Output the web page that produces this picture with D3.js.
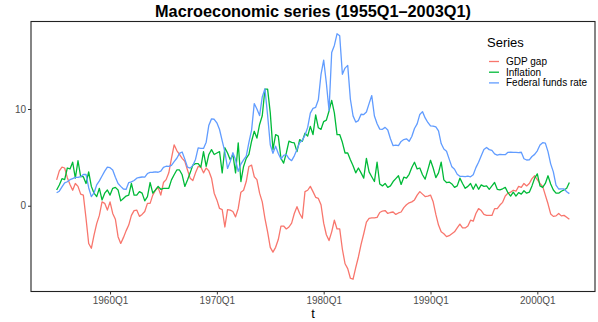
<!DOCTYPE html>
<html><head><meta charset="utf-8">
<script src="https://cdn.jsdelivr.net/npm/d3@7"></script>
<style>body{margin:0;background:#fff;} svg{display:block;font-family:"Liberation Sans",Arial,sans-serif;}</style>
</head><body><svg id="c" width="598" height="322"></svg>
<script>
const startYear = 1955;
const nQuarters = 193;
const quarters = d3.range(nQuarters).map(i => (startYear + Math.floor(i/4)) + "Q" + (i%4+1));
const xTickLabels = ["1960Q1","1970Q1","1980Q1","1990Q1","2000Q1"];
const yTicks = [0, 10];
const seriesNames = ["GDP gap","Inflation","Federal funds rate"];
const seriesColors = ["#F8766D","#00BA38","#619CFF"];

const gdpGap = [
 2.67,3.6,4.0,3.9, 2.9,2.2,1.6,2.3, 2.0,1.2,1.1,-1.3, -3.9,-4.4,-3.05,-1.85,
 -1.0,0.4,0.25,-0.45, 0.4,-0.8,-1.4,-3.2, -3.9,-3.3,-2.6,-2.0, -1.0,-0.5,-0.45,-1.1,
 -0.9,-0.6,0.24,0.24, 1.1,1.6,1.9,1.1, 2.4,2.7,3.4,4.9, 6.3,5.7,5.3,4.9,
 4.6,3.7,2.85,2.6, 3.4,4.06,4.0,3.4, 3.9,3.6,2.85,1.3, 0.6,-0.28,-0.4,-2.2,
 -0.4,-0.45,-0.6,-1.15, -0.28,1.4,1.6,2.5, 4.06,4.2,3.0,2.7, 1.3,0.4,-1.3,-2.7,
 -4.3,-4.8,-4.3,-3.5, -2.1,-2.1,-2.4,-2.2, -1.8,-0.8,-0.1,-0.8, -1.3,1.46,1.6,2.0,
 1.46,0.87,0.76,0.1, -1.8,-3.0,-3.6,-2.7, -1.5,-2.4,-2.4,-4.5, -6.0,-6.5,-7.5,-7.6,
 -6.4,-5.3,-4.0,-2.9, -1.7,-1.3,-1.25,-1.25, -1.2,-0.7,-0.55,-0.5, -0.8,-0.7,-0.65,-0.9,
 -0.75,-0.65,-0.2,0.1, 0.3,0.4,0.6,1.1, 1.46,1.2,0.95,1.0, 1.1,0.4,-0.9,-2.0,
 -2.7,-2.9,-3.2,-3.1, -2.9,-2.7,-2.3,-1.9, -2.3,-2.3,-2.1,-1.5, -1.6,-0.8,-0.3,-0.5,
 -0.9,-1.0,-1.0,-1.0, -0.3,-0.3,0.07,0.35, 1.0,1.3,1.4,1.6, 1.5,2.0,1.9,2.3,
 2.05,2.3,2.8,3.1, 2.7,2.3,2.0,1.1, 0.2,-0.85,-1.1,-1.05, -0.8,-1.05,-1.0,-1.2,
 -1.4
];
const inflation = [
 1.63,2.15,2.8,2.7, 3.9,3.8,4.5,2.85, 4.65,3.0,3.0,2.3, 3.5,2.0,1.3,0.94,
 1.8,0.6,1.3,1.63, 1.1,1.8,1.9,1.63, 0.5,0.75,1.0,1.1, 2.3,1.1,1.1,1.46,
 1.3,0.5,0.94,2.4, 1.3,1.63,2.0,1.7, 1.8,1.8,1.8,2.67, 3.2,3.7,3.7,3.2,
 2.0,2.67,3.4,4.2, 4.35,4.35,4.0,5.6, 4.06,5.3,5.8,5.3, 5.45,5.6,3.4,6.0,
 5.45,4.75,5.3,3.4, 6.5,2.5,4.06,4.9, 5.3,6.67,7.7,7.0, 8.4,9.3,12.05,12.05,
 9.6,5.8,7.36,7.2, 4.9,4.4,5.45,6.67, 6.55,6.5,5.6,6.84, 6.67,7.5,7.2,8.2,
 7.36,9.4,8.06,7.9, 8.7,8.85,9.8,10.9, 9.6,7.36,7.36,6.56, 5.45,5.45,4.75,4.13,
 3.4,3.9,3.4,2.85, 4.9,3.5,3.0,2.5, 4.5,2.25,2.05,2.3, 1.9,2.05,2.5,2.8,
 3.1,2.2,2.95,2.85, 3.25,3.95,4.5,3.8, 3.9,3.2,2.75,3.7, 4.7,3.9,2.9,3.4,
 4.5,2.67,2.4,2.45, 2.25,1.9,2.05,2.85, 2.3,1.8,2.0,2.3, 1.7,2.25,1.7,2.15,
 2.0,2.05,1.7,2.05, 2.4,1.7,1.63,1.75, 1.9,1.35,1.0,1.4, 1.0,1.35,1.2,1.55,
 1.3,1.4,2.05,2.85, 3.3,2.05,1.9,2.3, 3.1,2.25,1.63,1.3, 1.3,1.5,1.63,1.8,
 2.4
];
const fedFunds = [
 1.34,1.50,1.94,2.36, 2.48,2.69,2.81,2.93, 2.93,3.00,3.23,3.25, 1.86,0.94,1.32,2.16,
 2.57,3.08,3.58,3.99, 3.93,3.70,2.94,2.30, 2.00,1.73,1.68,2.40, 2.46,2.61,2.85,2.92,
 2.97,2.96,3.33,3.45, 3.46,3.49,3.46,3.58, 3.97,4.08,4.07,4.17, 4.56,4.91,5.41,5.56,
 4.82,3.99,3.89,4.17, 4.79,5.98,5.94,5.92, 6.57,8.33,8.98,8.94, 8.57,7.88,6.70,5.57,
 3.86,4.56,5.48,4.75, 3.55,4.30,4.74,5.14, 6.54,7.82,10.56,10.00, 9.32,11.25,12.09,9.35,
 6.30,5.42,6.16,5.41, 4.83,5.20,5.28,4.87, 4.66,5.16,5.82,6.51, 6.76,7.28,8.10,9.58,
 10.07,10.18,10.95,13.58, 15.05,12.69,9.84,15.85, 16.57,17.78,17.58,13.59, 14.23,14.51,11.01,9.29,
 8.65,8.80,9.46,9.43, 9.69,10.56,11.39,9.27, 8.48,7.92,7.90,8.10, 7.83,6.92,6.21,6.27,
 6.22,6.65,6.84,6.92, 6.66,7.16,7.98,8.47, 9.44,9.73,9.08,8.61, 8.25,8.24,8.16,7.74,
 6.43,5.86,5.64,4.82, 4.02,3.77,3.26,3.04, 3.04,3.00,3.06,2.99, 3.21,3.94,4.49,5.17,
 5.81,6.02,5.80,5.72, 5.36,5.24,5.31,5.28, 5.28,5.52,5.53,5.51, 5.52,5.50,5.53,4.86,
 4.73,4.75,5.09,5.31, 5.68,6.27,6.52,6.47, 5.59,4.33,3.50,2.13, 1.73,1.75,1.74,1.44,
 1.25
];
const seriesValues = [gdpGap, inflation, fedFunds];

const svg = d3.select("#c");
const L = 31, R = 595, T = 21.5, B = 291.5;
const n = quarters.length;
const padX = (n - 1) * 0.05;
const x = d3.scaleLinear().domain([-padX, n - 1 + padX]).range([L, R]);
const allVals = seriesValues.flat();
const ext = d3.extent(allVals);
const padY = (ext[1] - ext[0]) * 0.05;
const y = d3.scaleLinear().domain([ext[0] - padY, ext[1] + padY]).range([B, T]);

const line = d3.line().x((d, i) => x(i)).y(d => y(d));
seriesValues.forEach((vals, k) => {
  svg.append("path").datum(vals).attr("d", line)
    .attr("fill", "none").attr("stroke", seriesColors[k]).attr("stroke-width", 1.3)
    .attr("stroke-linejoin", "round");
});

// border
svg.append("rect").attr("x", L).attr("y", T).attr("width", R - L).attr("height", B - T)
  .attr("fill", "none").attr("stroke", "#222").attr("stroke-width", 1.1);

// axes
const xAxis = d3.axisBottom(x).tickValues(xTickLabels.map(l => quarters.indexOf(l)))
  .tickFormat(i => quarters[i]).tickSizeOuter(0).tickSize(3).tickPadding(2);
const gx = svg.append("g").attr("transform", `translate(0,${B})`).call(xAxis);
gx.select(".domain").remove();
gx.selectAll("line").attr("stroke", "#333");
gx.selectAll("text").attr("fill", "#4d4d4d").style("font-size", "10px").style("font-family", "Liberation Sans, Arial, sans-serif");

const yAxis = d3.axisLeft(y).tickValues(yTicks).tickSizeOuter(0).tickSize(3).tickPadding(2);
const gy = svg.append("g").attr("transform", `translate(${L},0)`).call(yAxis);
gy.select(".domain").remove();
gy.selectAll("line").attr("stroke", "#333");
gy.selectAll("text").attr("fill", "#4d4d4d").style("font-size", "10px").style("font-family", "Liberation Sans, Arial, sans-serif");

// titles
svg.append("text").attr("x", (L + R) / 2).attr("y", 17).attr("text-anchor", "middle")
  .style("font-size", "16.3px").style("font-weight", "bold").attr("fill", "#000")
  .text("Macroeconomic series (1955Q1\u20132003Q1)");
svg.append("text").attr("x", (L + R) / 2).attr("y", 318).attr("text-anchor", "middle")
  .style("font-size", "13px").attr("fill", "#000").text("t");

// legend
const lg = svg.append("g");
lg.append("text").attr("x", 487).attr("y", 47).style("font-size", "13px").attr("fill", "#000").text("Series");
seriesNames.forEach((name, k) => {
  const cy = 61.5 + k * 10.7;
  lg.append("line").attr("x1", 489).attr("x2", 499).attr("y1", cy).attr("y2", cy)
    .attr("stroke", seriesColors[k]).attr("stroke-width", 1.3);
  lg.append("text").attr("x", 506).attr("y", cy + 3.5).style("font-size", "10px").attr("fill", "#000").text(name);
});
</script></body></html>
